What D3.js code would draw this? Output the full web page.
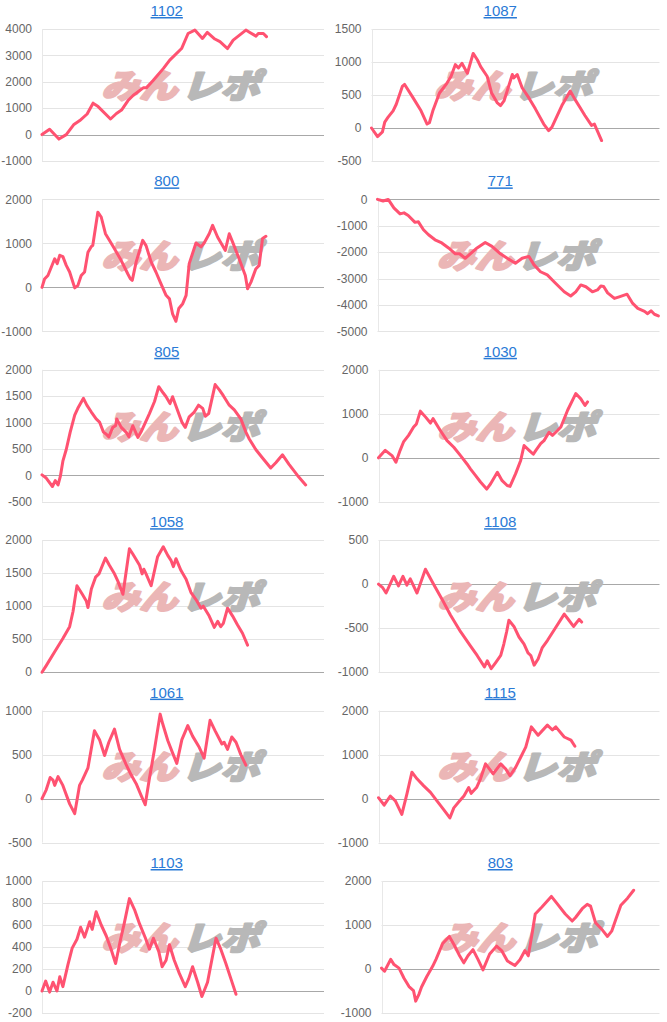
<!DOCTYPE html>
<html>
<head>
<meta charset="utf-8">
<script src="https://cdn.jsdelivr.net/npm/d3@7"></script>
<style>
  html, body { margin: 0; padding: 0; background: #fff; }
  svg { display: block; }
</style>
</head>
<body>
<div id="charts"></div>
<script>
// machine numbers shown above each chart
const titles = ['1102', '1087', '800', '771', '805', '1030', '1058', '1108', '1061', '1115', '1103', '803'];

// y axis ticks per chart
const ticks1102 = [-1000, 0, 1000, 2000, 3000, 4000];
const ticks1087 = [-500, 0, 500, 1000, 1500];
const ticks800 = [-1000, 0, 1000, 2000];
const ticks771 = [-5000, -4000, -3000, -2000, -1000, 0];
const ticks805 = [-500, 0, 500, 1000, 1500, 2000];
const ticks1030 = [-1000, 0, 1000, 2000];
const ticks1058 = [0, 500, 1000, 1500, 2000];
const ticks1108 = [-1000, -500, 0, 500];
const ticks1061 = [-500, 0, 500, 1000];
const ticks1115 = [-1000, 0, 1000, 2000];
const ticks1103 = [-200, 0, 200, 400, 600, 800, 1000];
const ticks803 = [-1000, 0, 1000, 2000];

// [progress (0-100), balance]
const s1102 = [[0,0],[2.7,200],[6.0,-170],[8.6,0],[11.2,370],[13.4,530],[16.0,780],[18.1,1190],[19.9,1060],[24.3,590],[26.4,800],[28.2,930],[30.5,1290],[32.3,1480],[35.9,1770],[37.0,1770],[39.4,2050],[43.0,2500],[45.3,2820],[49.5,3260],[51.8,3830],[54.2,3960],[56.9,3640],[58.6,3870],[61.3,3620],[63.1,3520],[65.8,3260],[67.8,3580],[69.6,3730],[72.3,3960],[73.7,3870],[75.9,3730],[76.7,3830],[78.5,3830],[79.6,3710]];
const s1087 = [[0,0],[2.1,-130],[3.8,-60],[4.6,90],[5.7,160],[7.5,260],[8.6,360],[10.7,630],[11.5,660],[14.4,460],[17.2,260],[19.3,60],[20.1,80],[21.3,260],[23.6,530],[25.9,660],[27.6,780],[29.1,960],[30.2,910],[31.4,980],[33.3,830],[35.3,1130],[36.8,1030],[37.9,930],[40.2,780],[41.7,530],[43.7,380],[44.8,340],[46.0,410],[47.1,560],[48.9,810],[49.4,760],[50.6,810],[52.3,610],[54.6,460],[56.9,290],[59.8,60],[61.5,-40],[62.6,10],[66.1,340],[69.0,560],[70.7,430],[72.4,310],[74.1,190],[76.4,40],[77.4,60],[79.9,-190]];
const s800 = [[0,0],[0.9,190],[2.1,270],[4.5,650],[5.4,540],[6.3,730],[7.4,700],[8.6,500],[9.8,350],[11.6,-10],[12.7,40],[13.9,270],[15.1,350],[16.3,800],[17.5,930],[18.0,950],[19.8,1710],[21.0,1600],[22.5,1220],[23.9,1070],[25.7,880],[28.1,610],[30.4,310],[31.3,200],[32.0,160],[33.4,580],[35.7,1070],[36.9,950],[38.7,580],[40.4,350],[42.2,80],[44.0,-180],[45.2,-260],[46.3,-600],[47.5,-770],[48.5,-480],[49.9,-370],[51.1,-180],[52.2,540],[54.6,1010],[56.4,920],[57.5,1010],[59.3,1220],[60.5,1410],[62.3,1140],[64.0,950],[65.0,840],[66.4,1220],[67.6,1030],[69.9,650],[72.1,270],[72.9,-30],[74.1,120],[75.8,420],[77.0,500],[78.2,1110],[79.4,1160]];
const s771 = [[0,0],[1.4,-40],[2.0,-60],[3.8,0],[5.8,-320],[8.0,-550],[9.4,-510],[10.9,-610],[13.3,-870],[14.5,-850],[16.3,-1150],[18.1,-1340],[20.4,-1530],[22.8,-1650],[25.2,-1840],[27.6,-2060],[29.1,-2060],[31.1,-2230],[32.9,-2060],[35.3,-1840],[38.2,-1630],[40.6,-1780],[43.6,-2060],[46.0,-2230],[48.9,-2420],[51.3,-2230],[53.7,-2160],[55.5,-2480],[57.8,-2740],[60.2,-2860],[62.6,-3120],[64.4,-3310],[66.2,-3500],[68.5,-3660],[70.3,-3500],[72.1,-3240],[73.9,-3310],[76.2,-3500],[78.0,-3430],[79.2,-3280],[80.2,-3300],[81.6,-3540],[84.0,-3750],[85.7,-3690],[88.5,-3590],[90.5,-3940],[92.3,-4130],[94.7,-4240],[95.8,-4330],[97.0,-4220],[98.2,-4350],[99.6,-4410]];
const s805 = [[0,10],[1.5,-50],[3.7,-210],[4.7,-100],[5.7,-180],[6.5,-20],[7.4,270],[8.6,490],[10.0,820],[11.6,1140],[12.7,1270],[14.7,1460],[15.9,1330],[17.5,1200],[19.2,1070],[20.4,1010],[21.8,820],[22.8,780],[23.7,730],[25.1,910],[26.1,940],[26.5,1070],[28.1,910],[29.8,820],[30.8,730],[32.2,940],[34.0,720],[35.1,820],[38.1,1170],[39.9,1400],[41.4,1680],[43.0,1560],[44.0,1490],[45.4,1360],[46.3,1490],[48.7,1140],[49.6,1010],[50.8,910],[52.2,1110],[54.0,1200],[55.5,1330],[57.0,1270],[57.9,1120],[59.1,1170],[61.4,1720],[62.9,1620],[64.3,1510],[66.4,1330],[68.2,1240],[70.5,1070],[72.3,820],[73.5,690],[75.8,490],[78.2,330],[81.1,140],[82.9,240],[85.3,390],[87.6,210],[90.6,0],[93.5,-180]];
const s1030 = [[0,0],[2.4,170],[4.8,50],[6.2,-100],[7.7,170],[8.9,360],[10.7,510],[12.5,700],[13.5,770],[14.9,1060],[16.7,930],[18.5,790],[19.4,890],[22.0,620],[24.4,390],[26.8,240],[29.2,50],[31.5,-140],[32.7,-250],[34.5,-400],[36.3,-550],[38.5,-710],[39.9,-590],[42.3,-330],[44.0,-520],[45.8,-630],[46.8,-650],[48.8,-360],[50.6,-60],[51.8,280],[53.6,170],[55.1,80],[56.0,170],[57.7,320],[58.9,390],[60.7,580],[61.9,510],[63.7,620],[64.9,700],[67.3,1080],[70.2,1460],[72.0,1340],[73.5,1190],[74.4,1270]];
const s1058 = [[0,0],[1.5,100],[4.5,310],[7.4,510],[9.8,690],[11.0,920],[12.4,1310],[14.3,1180],[15.7,1080],[16.3,980],[17.5,1260],[19.0,1440],[20.2,1490],[22.5,1730],[23.9,1620],[25.7,1490],[26.9,1380],[28.7,1180],[31.0,1870],[32.2,1790],[34.6,1620],[35.5,1490],[36.1,1560],[36.9,1490],[38.7,1310],[41.0,1750],[43.0,1900],[44.6,1770],[45.8,1690],[46.6,1600],[47.5,1720],[49.3,1540],[51.1,1410],[52.8,1210],[54.6,1100],[56.4,970],[57.2,1000],[59.3,850],[61.1,680],[62.3,770],[63.4,690],[64.3,740],[65.8,970],[67.6,850],[69.3,720],[71.1,590],[72.9,410]];
const s1108 = [[0,0],[1.5,-40],[2.7,-100],[5.4,90],[7.1,-20],[8.7,90],[10.1,-10],[11.3,60],[13.7,-100],[16.7,170],[19.6,0],[22.6,-170],[25.6,-350],[29.2,-540],[32.7,-700],[35.1,-810],[37.7,-940],[38.7,-870],[40.1,-960],[41.7,-890],[43.5,-810],[44.6,-680],[45.6,-540],[46.4,-410],[48.2,-480],[50.0,-600],[51.8,-680],[53.2,-780],[54.2,-810],[55.4,-920],[56.8,-850],[58.3,-720],[60.1,-640],[62.5,-520],[66.1,-340],[67.3,-390],[69.4,-480],[71.4,-400],[72.3,-430]];
const s1061 = [[0,0],[1.5,100],[2.9,240],[3.9,210],[4.5,150],[5.7,250],[7.4,150],[9.8,-60],[11.6,-170],[13.3,150],[14.3,210],[16.3,350],[18.6,770],[20.4,670],[22.2,490],[23.7,640],[25.7,790],[27.5,560],[29.8,390],[31.6,270],[33.4,170],[35.1,40],[36.6,-70],[38.1,230],[39.9,560],[41.9,960],[42.8,850],[44.6,660],[46.3,520],[47.8,400],[49.6,670],[51.7,830],[53.4,710],[55.8,580],[57.5,460],[59.6,890],[61.4,770],[63.8,620],[64.6,640],[65.8,560],[67.3,700],[68.8,640],[70.5,500],[72.3,380]];
const s1115 = [[0,20],[2.0,-150],[4.2,60],[6.0,-50],[8.3,-360],[10.1,100],[11.9,600],[13.7,450],[16.1,290],[18.5,140],[20.8,-50],[23.2,-250],[25.4,-440],[26.8,-210],[28.9,-50],[30.4,60],[32.1,250],[33.0,120],[34.9,250],[36.3,450],[38.1,790],[40.8,560],[43.5,790],[45.2,680],[46.8,520],[48.8,710],[50.6,940],[52.4,1170],[54.4,1630],[56.8,1440],[60.1,1670],[61.9,1560],[63.1,1630],[66.1,1400],[68.5,1330],[69.9,1190]];
const s1103 = [[0,0],[1.3,90],[2.7,-10],[3.9,80],[5.3,0],[6.3,130],[7.4,40],[9.2,240],[10.7,390],[12.4,470],[13.7,580],[15.1,490],[16.9,630],[17.8,560],[19.2,720],[21.0,600],[22.8,500],[24.5,380],[26.1,250],[27.7,450],[29.2,620],[31.0,840],[32.8,740],[34.6,610],[36.7,480],[38.1,380],[39.5,480],[41.4,360],[42.6,220],[44.0,280],[45.2,420],[46.9,280],[48.7,160],[50.8,40],[52.0,110],[53.4,220],[55.2,80],[56.7,-50],[58.7,80],[61.7,480],[63.4,380],[65.2,250],[67.0,110],[68.8,-30]];
const s803 = [[0,20],[1.1,-50],[3.3,220],[4.5,100],[6.3,20],[8.1,-210],[9.9,-400],[11.5,-490],[12.3,-730],[13.5,-570],[14.4,-410],[16.3,-170],[18.4,60],[19.6,220],[22.0,580],[24.4,740],[26.2,540],[28.1,300],[29.6,140],[31.1,300],[32.9,440],[34.7,220],[36.5,-20],[38.9,340],[41.4,520],[43.2,420],[45.3,180],[48.0,80],[49.8,210],[51.6,420],[52.8,300],[54.1,780],[55.3,1250],[57.7,1410],[61.1,1650],[63.1,1490],[66.1,1250],[68.6,1090],[69.8,1170],[72.2,1370],[74.0,1470],[75.2,1430],[77.0,1050],[79.4,890],[81.3,740],[82.8,860],[84.3,1130],[86.1,1450],[88.5,1610],[90.7,1790]];

const seriesList = [s1102, s1087, s800, s771, s805, s1030, s1058, s1108, s1061, s1115, s1103, s803];
const tickList = [ticks1102, ticks1087, ticks800, ticks771, ticks805, ticks1030, ticks1058, ticks1108, ticks1061, ticks1115, ticks1103, ticks803];

// layout
const width = 667, height = 1022;
const cellW = 333.5, cellH = 170.4;
const leftPad = [42, 38, 42, 44, 42, 45, 42, 45, 42, 45, 42, 48];
const lineColor = '#ff5271';

const svg = d3.select('#charts').append('svg')
    .attr('width', width)
    .attr('height', height)
    .style('font-family', '"Liberation Sans", Arial, sans-serif');

seriesList.forEach((data, i) => {
    const col = i % 2, row = Math.floor(i / 2);
    const cx = col * cellW, cy = row * cellH;
    const ticks = tickList[i];

    const left = cx + leftPad[i];
    const right = cx + (col === 0 ? 324 : 326);
    const top = cy + 29, bottom = cy + 161;

    const x = d3.scaleLinear().domain([0, 100]).range([left, right]);
    const y = d3.scaleLinear().domain(d3.extent(ticks)).range([bottom, top]);

    const g = svg.append('g');

    // title (link style)
    g.append('text')
        .attr('x', cx + cellW / 2)
        .attr('y', cy + 16)
        .attr('text-anchor', 'middle')
        .attr('fill', '#2a7ad6')
        .style('font-size', '15px')
        .style('text-decoration', 'underline')
        .text(titles[i]);

    // gridlines
    g.selectAll('line.grid')
        .data(ticks)
        .enter()
        .append('line')
        .attr('x1', left)
        .attr('x2', right)
        .attr('y1', d => Math.round(y(d)) + 0.5)
        .attr('y2', d => Math.round(y(d)) + 0.5)
        .attr('stroke', d => d === 0 ? '#a8a8a8' : '#e4e4e4')
        .attr('stroke-width', 1);

    // faint vertical axis
    g.append('line')
        .attr('x1', Math.round(left) + 0.5)
        .attr('x2', Math.round(left) + 0.5)
        .attr('y1', top)
        .attr('y2', bottom)
        .attr('stroke', '#e8e8e8');

    // tick labels
    g.selectAll('text.tick')
        .data(ticks)
        .enter()
        .append('text')
        .attr('x', left - 10)
        .attr('y', d => y(d))
        .attr('dy', '0.35em')
        .attr('text-anchor', 'end')
        .attr('fill', '#666')
        .style('font-size', '12px')
        .text(d => d);

    // watermark logo
    const mx = (left + right) / 2, my = cy + 86;
    const wm = g.append('g')
        .attr('transform', `translate(${mx},${my}) skewX(-18)`)
        .style('font-family', '"Noto Sans CJK JP", sans-serif')
        .style('font-weight', 900)
        .style('font-size', '33px')
        .attr('stroke-width', 2.2)
        .attr('stroke-linejoin', 'round');
    wm.append('text')
        .attr('x', -78)
        .attr('dy', '0.36em')
        .attr('textLength', 76)
        .attr('lengthAdjust', 'spacingAndGlyphs')
        .attr('fill', '#ebb6b6')
        .attr('stroke', '#ebb6b6')
        .text('みん');
    wm.append('text')
        .attr('x', 2)
        .attr('dy', '0.36em')
        .attr('textLength', 78)
        .attr('lengthAdjust', 'spacingAndGlyphs')
        .attr('fill', '#b8b8b8')
        .attr('stroke', '#b8b8b8')
        .text('レポ');

    // balance line
    const line = d3.line()
        .x(d => x(d[0]))
        .y(d => y(d[1]));

    g.append('path')
        .datum(data)
        .attr('d', line)
        .attr('fill', 'none')
        .attr('stroke', lineColor)
        .attr('stroke-width', 3)
        .attr('stroke-linejoin', 'round')
        .attr('stroke-linecap', 'round');
});
</script>
</body>
</html>
